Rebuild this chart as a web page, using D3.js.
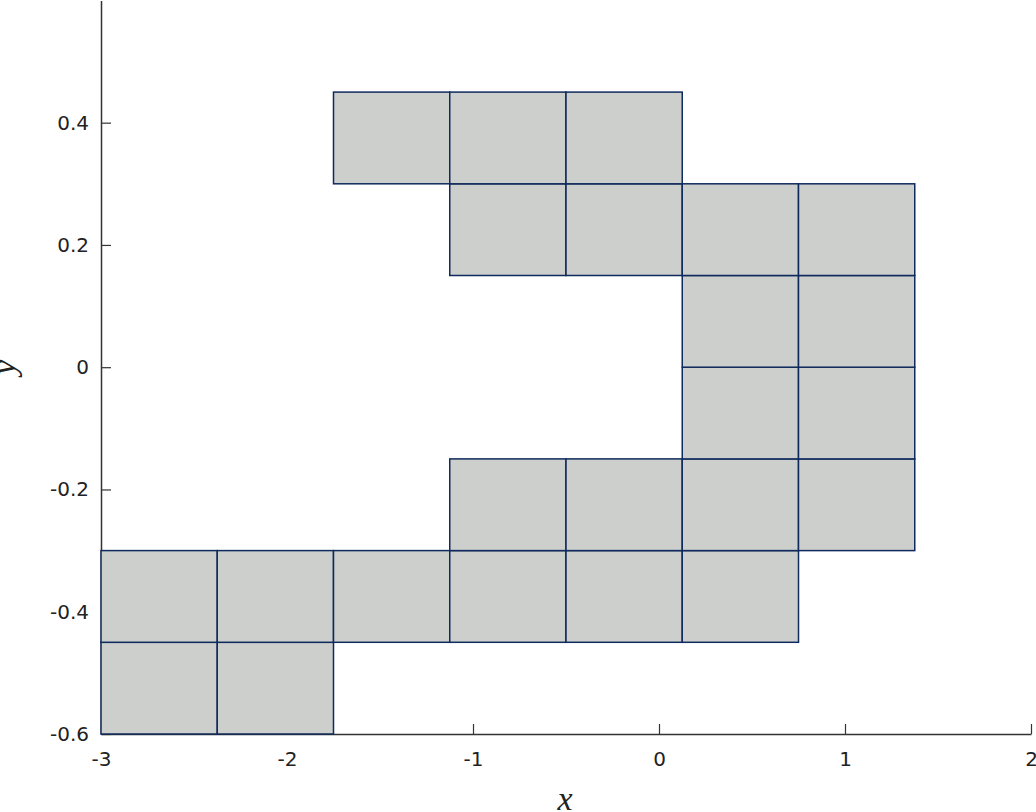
<!DOCTYPE html>
<html><head><meta charset="utf-8">
<script src="https://cdn.jsdelivr.net/npm/d3@7"></script>
<style>body{margin:0;background:#fff}</style>
</head><body>
<svg id="c" width="1036" height="812"></svg>
<script>
// Data
const xEdges = [-3, -2.375, -1.75, -1.125, -0.5, 0.125, 0.75, 1.375];
const yEdges = [-0.6, -0.45, -0.3, -0.15, 0, 0.15, 0.3, 0.45];
// cells as [column index, row index] (row 0 = bottom)
const cellCols = [0,1, 0,1,2,3,4,5, 3,4,5,6, 5,6, 5,6, 3,4,5,6, 2,3,4];
const cellRows = [0,0, 1,1,1,1,1,1, 2,2,2,2, 3,3, 4,4, 5,5,5,5, 6,6,6];
const xTicks = [-3, -2, -1, 0, 1, 2];
const yTicks = [-0.6, -0.4, -0.2, 0, 0.2, 0.4];
const xTickLabels = ["-3", "-2", "-1", "0", "1", "2"];
const yTickLabels = ["-0.6", "-0.4", "-0.2", "0", "0.2", "0.4"];

const svg = d3.select("#c");
const x = d3.scaleLinear().domain([-3, 2]).range([101, 1031]);
const y = d3.scaleLinear().domain([-0.6, 0.6]).range([734, 0.4]);

const axisColor = "#333";
const font = "'DejaVu Sans', sans-serif";

// x axis
const xa = svg.append("g").attr("transform", `translate(0,${y(-0.6)})`)
  .call(d3.axisBottom(x).tickValues(xTicks).tickFormat((d,i)=>xTickLabels[i]).tickSizeInner(-10).tickSizeOuter(0).tickPadding(18));
xa.select(".domain").attr("stroke", axisColor).attr("stroke-width", 1.5);
xa.selectAll(".tick line").attr("stroke", axisColor).attr("stroke-width", 1.2);
xa.selectAll("text").attr("font-family", font).attr("font-size", 20).attr("fill", "#222");

// y axis
const ya = svg.append("g").attr("transform", `translate(${x(-3)},0)`)
  .call(d3.axisLeft(y).tickValues(yTicks).tickFormat((d,i)=>yTickLabels[i]).tickSizeInner(-10).tickSizeOuter(0).tickPadding(12));
ya.select(".domain").attr("stroke", axisColor).attr("stroke-width", 1.5);
ya.selectAll(".tick line").attr("stroke", axisColor).attr("stroke-width", 1.2);
ya.selectAll("text").attr("font-family", font).attr("font-size", 20).attr("fill", "#222");

// cells
const cells = cellCols.map((c, i) => ({c, r: cellRows[i]}));
svg.append("g").selectAll("rect").data(cells).join("rect")
  .attr("x", d => x(xEdges[d.c]))
  .attr("y", d => y(yEdges[d.r + 1]))
  .attr("width", d => x(xEdges[d.c + 1]) - x(xEdges[d.c]))
  .attr("height", d => y(yEdges[d.r]) - y(yEdges[d.r + 1]))
  .attr("fill", "#cdcfcc")
  .attr("stroke", "#0f2a5c")
  .attr("stroke-width", 1.5);

// axis labels
svg.append("text").attr("x", 565).attr("y", 810).attr("text-anchor", "middle")
  .attr("font-family", "'Liberation Serif', serif").attr("font-style", "italic").attr("font-size", 34).attr("fill", "#222").text("x");
svg.append("text").attr("transform", `translate(15,${y(0)}) rotate(-90)`).attr("text-anchor", "middle")
  .attr("font-family", "'Liberation Serif', serif").attr("font-style", "italic").attr("font-size", 34).attr("fill", "#222").text("y");
</script>
</body></html>
